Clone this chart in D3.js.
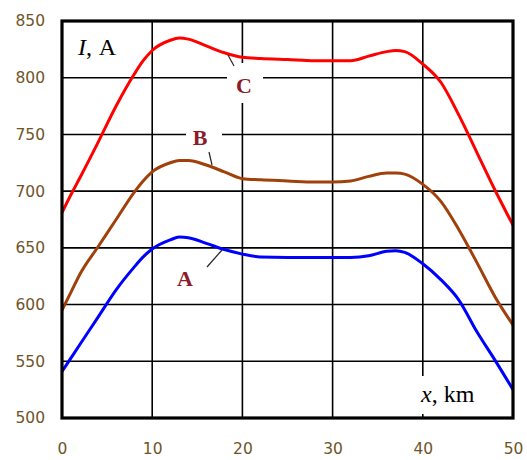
<!DOCTYPE html>
<html>
<head>
<meta charset="utf-8">
<script src="https://cdn.jsdelivr.net/npm/d3@7"></script>
<style>
html,body{margin:0;padding:0;background:#fff;}
svg{display:block;}
</style>
</head>
<body>
<svg id="chart" width="527" height="460"></svg>
<script>
// Data
const xKm = [0, 1, 2, 4, 6, 8, 9, 10, 12, 13, 14, 16, 18, 20, 22, 25, 28, 30, 32, 34, 36, 37, 38, 40, 42, 44, 46, 48, 50];
const seriesC = [681, 697, 712, 743, 775, 803, 815, 824, 833, 835, 834, 828, 822, 818, 817, 816, 815, 815, 815, 819, 823, 824, 823, 812, 796, 767, 734, 701, 670];
const seriesB = [595, 611, 627, 651, 675, 699, 709, 717, 725, 727, 727, 723, 717, 711, 710, 709, 708, 708, 709, 713, 716, 716, 715, 706, 691, 666, 637, 607, 582];
const seriesA = [541, 553, 565, 589, 613, 633, 642, 649, 657, 659.5, 659, 654, 648.5, 644.5, 642, 641.6, 641.6, 641.6, 641.6, 643, 647, 647.5, 646, 636, 622, 604, 576, 551, 525];
const xTicks = [0, 10, 20, 30, 40, 50];
const yTicks = [500, 550, 600, 650, 700, 750, 800, 850];
const seriesNames = ["A", "B", "C"];
const seriesColors = ["#0000ff", "#a0400a", "#ff0000"];

const svg = d3.select("#chart");
const L = 62, R = 513, T = 21, B = 418;
const x = d3.scaleLinear().domain([0, 50]).range([L, R]);
const y = d3.scaleLinear().domain([500, 850]).range([B, T]);

// gridlines
const grid = svg.append("g");
grid.selectAll("line.v").data(xTicks).join("line")
  .attr("x1", d => x(d)).attr("x2", d => x(d)).attr("y1", T).attr("y2", B)
  .attr("stroke", "#000").attr("stroke-width", 1.6);
grid.selectAll("line.h").data(yTicks).join("line")
  .attr("x1", L).attr("x2", R).attr("y1", d => y(d)).attr("y2", d => y(d))
  .attr("stroke", "#000").attr("stroke-width", 1.6);

// tick labels via axes
const axL = svg.append("g").attr("transform", `translate(${L - 17},0)`)
  .call(d3.axisLeft(y).tickValues(yTicks).tickSize(0).tickPadding(0));
const axB = svg.append("g").attr("transform", `translate(0,${B + 25})`)
  .call(d3.axisBottom(x).tickValues(xTicks).tickSize(0).tickPadding(0));
[axL, axB].forEach(a => {
  a.select(".domain").remove();
  a.selectAll("text").attr("fill", "#6e5528")
    .style("font-family", "'DejaVu Sans', sans-serif")
    .style("font-size", "15.5px");
});

// white boxes behind labels (they break the gridlines)
const boxes = [
  {x: 227, y: 63, w: 36, h: 40},
  {x: 186, y: 124, w: 36, h: 26},
  {x: 414, y: 376, w: 70, h: 38}
];
svg.append("g").selectAll("rect").data(boxes).join("rect")
  .attr("x", d => d.x).attr("y", d => d.y).attr("width", d => d.w).attr("height", d => d.h)
  .attr("fill", "#fff");

// curves
const allSeries = [seriesA, seriesB, seriesC];
const line = d3.line().x(d => x(d[0])).y(d => y(d[1])).curve(d3.curveMonotoneX);
svg.append("g").selectAll("path").data(allSeries).join("path")
  .attr("d", s => line(xKm.map((k, i) => [k, s[i]])))
  .attr("fill", "none")
  .attr("stroke", (s, i) => seriesColors[i])
  .attr("stroke-width", 3)
  .attr("stroke-linejoin", "round");

// frame
svg.append("rect").attr("x", L).attr("y", T).attr("width", R - L).attr("height", B - T)
  .attr("fill", "none").attr("stroke", "#000").attr("stroke-width", 3.2);

// leader lines
const leaders = [
  {x1: 207, y1: 267, x2: 222, y2: 250},
  {x1: 209, y1: 152, x2: 212, y2: 165},
  {x1: 228, y1: 55, x2: 234, y2: 66}
];
svg.append("g").selectAll("line").data(leaders).join("line")
  .attr("x1", d => d.x1).attr("y1", d => d.y1).attr("x2", d => d.x2).attr("y2", d => d.y2)
  .attr("stroke", "#222").attr("stroke-width", 1.2);

// series labels
const labelPos = [[185, 278], [200, 137], [244, 85]];
svg.append("g").selectAll("text").data(seriesNames).join("text")
  .attr("x", (d, i) => labelPos[i][0]).attr("y", (d, i) => labelPos[i][1])
  .attr("text-anchor", "middle").attr("dominant-baseline", "central")
  .attr("fill", "#8b1a2a")
  .style("font-family", "'Liberation Serif', 'Times New Roman', serif")
  .style("font-weight", "bold").style("font-size", "22px")
  .text(d => d);

// axis titles
const yTitle = svg.append("text").attr("x", 78).attr("y", 55)
  .style("font-family", "'Liberation Serif', 'Times New Roman', serif")
  .style("font-size", "24px").attr("fill", "#000");
yTitle.append("tspan").style("font-style", "italic").text("I");
yTitle.append("tspan").text(", ");
yTitle.append("tspan").attr("dx", 2).text("A");

const xTitle = svg.append("text").attr("x", 421).attr("y", 402)
  .style("font-family", "'Liberation Serif', 'Times New Roman', serif")
  .style("font-size", "24px").attr("fill", "#000");
xTitle.append("tspan").style("font-style", "italic").text("x");
xTitle.append("tspan").text(", km");
</script>
</body>
</html>
